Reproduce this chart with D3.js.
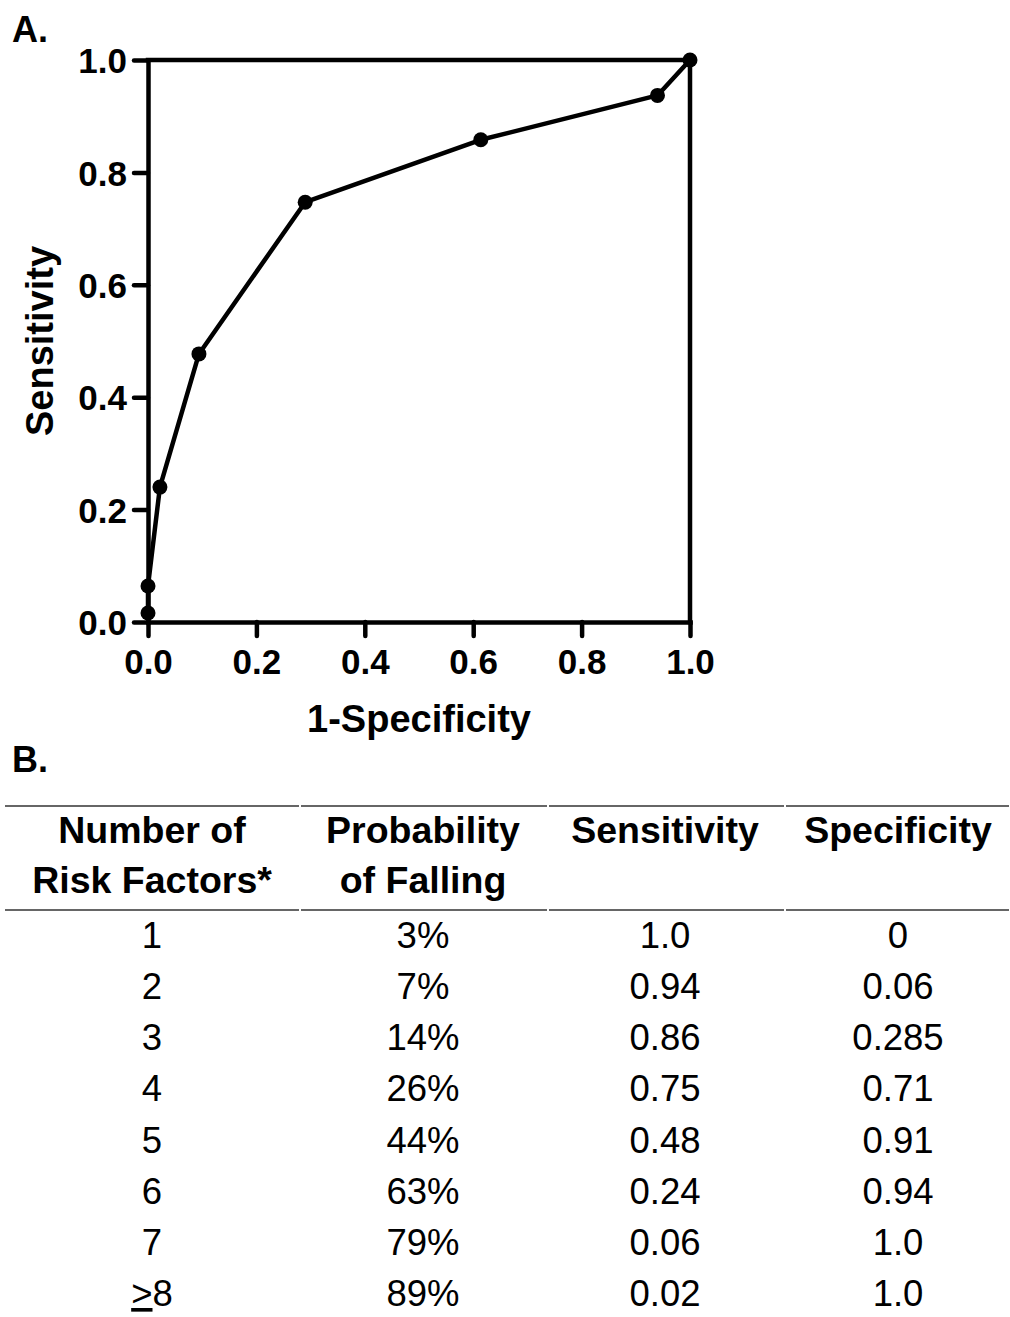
<!DOCTYPE html>
<html>
<head>
<meta charset="utf-8">
<script src="https://cdn.jsdelivr.net/npm/d3@7"></script>
<style>
  html, body { margin: 0; padding: 0; background: #fff; }
  svg { display: block; }
  text { font-family: "Liberation Sans", Arial, Helvetica, sans-serif; fill: #000; }
</style>
</head>
<body>
<svg id="chart" width="1010" height="1317"></svg>
<script>
// ROC points (1-specificity, sensitivity)
const rocFpr  = [0, 0, 0.022, 0.094, 0.29, 0.614, 0.94, 1.0];
const rocSens = [0.016, 0.064, 0.24, 0.477, 0.747, 0.858, 0.937, 1.0];
const xTicks = [0, 0.2, 0.4, 0.6, 0.8, 1.0];
const yTicks = [0, 0.2, 0.4, 0.6, 0.8, 1.0];
const xTitle = "1-Specificity";
const yTitle = "Sensitivity";

// Table (panel B)
const headerLines = [
  ["Number of", "Risk Factors*"],
  ["Probability", "of Falling"],
  ["Sensitivity"],
  ["Specificity"]
];
const riskFactors = ["1", "2", "3", "4", "5", "6", "7", ">8"];
const probFalling = ["3%", "7%", "14%", "26%", "44%", "63%", "79%", "89%"];
const tableSens   = ["1.0", "0.94", "0.86", "0.75", "0.48", "0.24", "0.06", "0.02"];
const tableSpec   = ["0", "0.06", "0.285", "0.71", "0.91", "0.94", "1.0", "1.0"];

const svg = d3.select("#chart");

// ---------- Panel A ----------
const x = d3.scaleLinear().domain([0, 1]).range([148, 690]);
const y = d3.scaleLinear().domain([0, 1]).range([622, 60]);

svg.append("text").attr("x", 12).attr("y", 42)
  .attr("font-size", 36).attr("font-weight", "bold").text("A.");

const fmt = d3.format(".1f");

const gx = svg.append("g").attr("transform", `translate(0,${y(0)})`)
  .call(d3.axisBottom(x).tickValues(xTicks).tickFormat(fmt).tickSize(14).tickSizeOuter(0).tickPadding(13));
const gy = svg.append("g").attr("transform", `translate(${x(0)},0)`)
  .call(d3.axisLeft(y).tickValues(yTicks).tickFormat(fmt).tickSize(14).tickSizeOuter(0).tickPadding(7));

[gx, gy].forEach(g => {
  g.select(".domain").attr("stroke", "#000").attr("stroke-width", 4.5).attr("stroke-linecap", "square");
  g.selectAll(".tick line").attr("stroke", "#000").attr("stroke-width", 4.5).attr("stroke-linecap", "round");
  g.selectAll(".tick text").attr("font-size", 35).attr("font-weight", "bold")
    .attr("font-family", "'Liberation Sans', Arial, sans-serif").attr("fill", "#000");
});
gy.selectAll(".tick text").attr("dy", "0.36em");

// frame (top and right)
svg.append("path")
  .attr("d", `M${x(0)},${y(1)}H${x(1)}V${y(0)}`)
  .attr("fill", "none").attr("stroke", "#000").attr("stroke-width", 4.5).attr("stroke-linecap", "square");

// curve
const pts = rocFpr.map((v, i) => [v, rocSens[i]]);
svg.append("path").datum(pts)
  .attr("d", d3.line().x(d => x(d[0])).y(d => y(d[1])))
  .attr("fill", "none").attr("stroke", "#000").attr("stroke-width", 4.5).attr("stroke-linejoin", "round");
svg.selectAll("circle.pt").data(pts).join("circle").attr("class", "pt")
  .attr("cx", d => x(d[0])).attr("cy", d => y(d[1])).attr("r", 7.5).attr("fill", "#000");

// axis titles
svg.append("text").attr("x", (x(0) + x(1)) / 2).attr("y", 732)
  .attr("text-anchor", "middle").attr("font-size", 38).attr("font-weight", "bold").text(xTitle);
svg.append("text").attr("transform", `translate(53,${(y(0) + y(1)) / 2}) rotate(-90)`)
  .attr("text-anchor", "middle").attr("font-size", 38).attr("font-weight", "bold").text(yTitle);

// ---------- Panel B ----------
svg.append("text").attr("x", 12).attr("y", 772)
  .attr("font-size", 36).attr("font-weight", "bold").text("B.");

const colCenters = [152, 423, 665, 898];
const colBounds = [5, 300, 548, 785, 1010];
const lineYs = [806, 910];
lineYs.forEach(ly => {
  for (let i = 0; i < 4; i++) {
    svg.append("line").attr("x1", colBounds[i] + (i ? 1 : 0)).attr("x2", colBounds[i + 1] - 1)
      .attr("y1", ly).attr("y2", ly).attr("stroke", "#333").attr("stroke-width", 1.6);
  }
});

headerLines.forEach((lines, ci) => {
  lines.forEach((t, li) => {
    svg.append("text").attr("x", colCenters[ci]).attr("y", 843 + li * 50)
      .attr("text-anchor", "middle").attr("font-size", 37.5).attr("font-weight", "bold").text(t);
  });
});

const rowY = d3.scaleLinear().domain([0, 7]).range([948, 1306]);
const cols = [riskFactors, probFalling, tableSens, tableSpec];
cols.forEach((arr, ci) => {
  arr.forEach((t, ri) => {
    const tx = svg.append("text").attr("x", colCenters[ci]).attr("y", rowY(ri))
      .attr("text-anchor", "middle").attr("font-size", 36.5);
    if (t.startsWith(">")) {
      tx.append("tspan").attr("text-decoration", "underline").text(">");
      tx.append("tspan").text(t.slice(1));
    } else {
      tx.text(t);
    }
  });
});
</script>
</body>
</html>
